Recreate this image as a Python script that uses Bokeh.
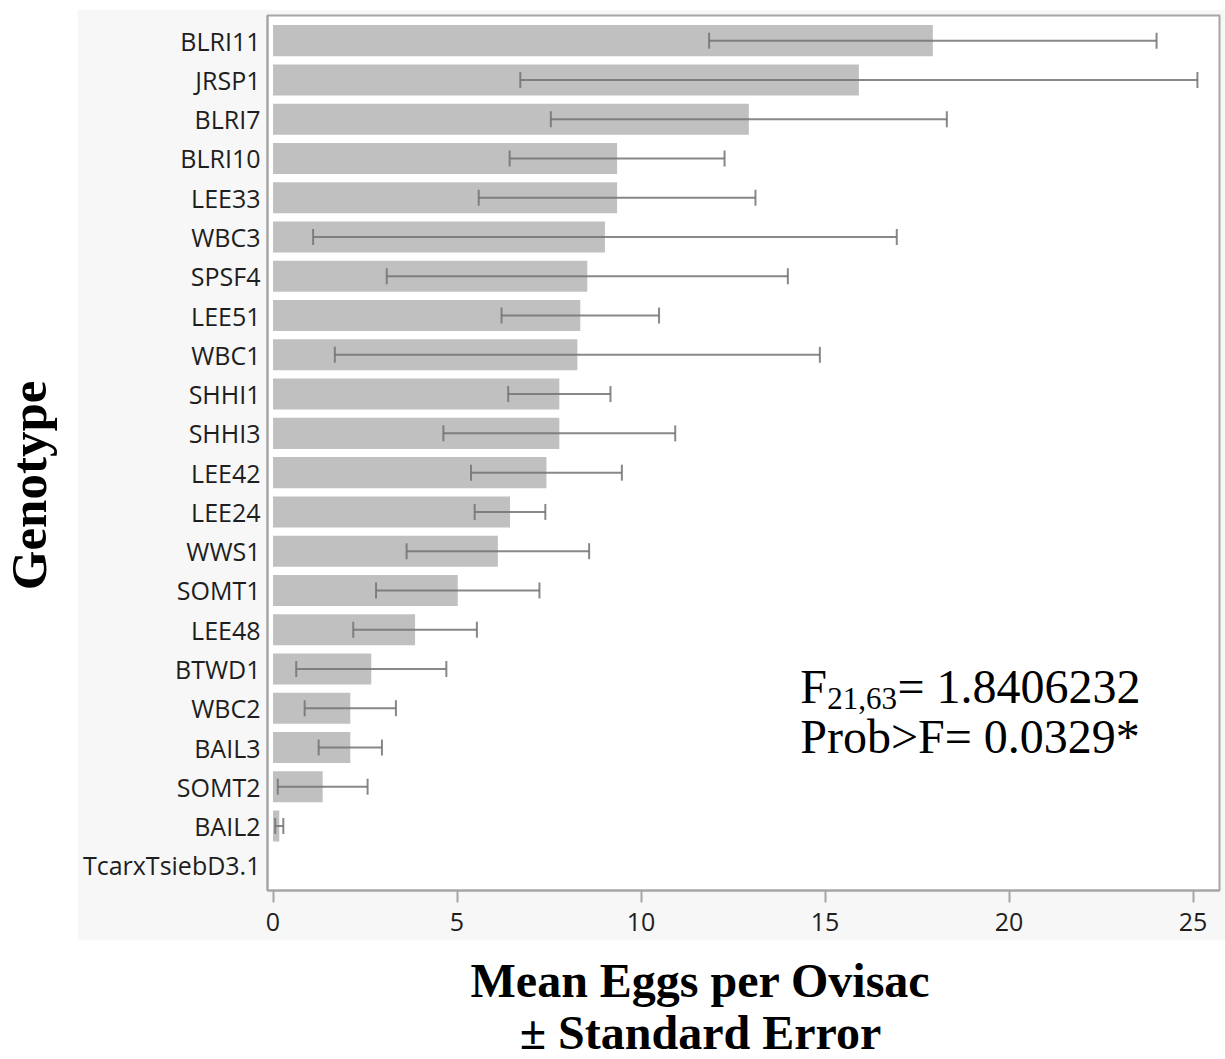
import math
import numpy as np
from bokeh.plotting import figure
from bokeh.models import ColumnDataSource, Whisker, TeeHead, Range1d, FactorRange, Label, FixedTicker, Spacer
from bokeh.layouts import column, row
from bokeh.embed import file_html
from bokeh.resources import INLINE

# ---------------- data ----------------
genotypes = ["BLRI11", "JRSP1", "BLRI7", "BLRI10", "LEE33", "WBC3", "SPSF4", "LEE51",
             "WBC1", "SHHI1", "SHHI3", "LEE42", "LEE24", "WWS1", "SOMT1", "LEE48",
             "BTWD1", "WBC2", "BAIL3", "SOMT2", "BAIL2", "TcarxTsiebD3.1"]
mean_eggs = [17.93, 15.92, 12.93, 9.35, 9.35, 9.02, 8.54, 8.35,
             8.27, 7.78, 7.78, 7.43, 6.44, 6.11, 5.02, 3.86,
             2.67, 2.10, 2.10, 1.35, 0.17, 0.0]
std_err = [6.08, 9.20, 5.38, 2.92, 3.76, 7.93, 5.45, 2.14,
           6.59, 1.39, 3.15, 2.05, 0.96, 2.48, 2.22, 1.68,
           2.04, 1.24, 0.86, 1.22, 0.11, float("nan")]
x_ticks = [0, 5, 10, 15, 20, 25]

stat_f_main = "F"
stat_f_sub = "21,63"
stat_f_value = "= 1.8406232"
stat_prob = "Prob>F= 0.0329*"

m = np.array(mean_eggs, dtype=float)
s = np.array(std_err, dtype=float)
src = ColumnDataSource(dict(genotype=genotypes, mean=m, lo=m - s, hi=m + s))

# ---------------- main plot ----------------
PANEL = "#f7f7f7"
EDGE = "#a6a6a6"

p = figure(
    title=None,
    y_range=FactorRange(factors=genotypes[::-1], range_padding=0.14, range_padding_units="absolute"),
    x_range=Range1d(-0.15, 25.72),
    frame_width=952, frame_height=875,
    min_border_left=190, min_border_right=6, min_border_top=6, min_border_bottom=50,
    toolbar_location=None, output_backend="svg",
    background_fill_color="white", border_fill_color=PANEL,
)
p.outline_line_color = EDGE
p.outline_line_width = 2
p.xgrid.visible = False
p.ygrid.visible = False

p.hbar(y="genotype", left=0, right="mean", height=0.79, source=src,
       fill_color="#c0c0c0", line_color=None)

whisk_col = "#737373"
w = Whisker(source=src, base="genotype", lower="lo", upper="hi", dimension="width",
            line_color=whisk_col, line_width=2, line_alpha=0.85, level="annotation",
            upper_head=TeeHead(size=16, line_color=whisk_col, line_width=2, line_alpha=0.85),
            lower_head=TeeHead(size=16, line_color=whisk_col, line_width=2, line_alpha=0.85))
p.add_layout(w)

# axes
p.xaxis.ticker = FixedTicker(ticks=x_ticks)
p.xaxis.minor_tick_line_color = None
p.xaxis.major_tick_in = 0
p.xaxis.major_tick_out = 12
p.xaxis.major_tick_line_color = EDGE
p.xaxis.major_tick_line_width = 2
p.xaxis.axis_line_color = EDGE
p.xaxis.axis_line_width = 2
p.xaxis.major_label_standoff = 10

p.yaxis.major_tick_in = 0
p.yaxis.major_tick_out = 0
p.yaxis.axis_line_color = EDGE
p.yaxis.axis_line_width = 2
p.yaxis.major_label_standoff = 7

for ax in (p.xaxis[0], p.yaxis[0]):
    ax.major_label_text_font = "Open Sans"
    ax.major_label_text_font_size = "25px"
    ax.major_label_text_color = "#1e1e1e"

serif = "Liberation Serif"
p.add_layout(Label(x=14.33, y=5.052, text=stat_f_main, text_font=serif, text_font_size="48px",
                   text_color="black", text_align="left", text_baseline="middle"))
p.add_layout(Label(x=15.06, y=4.751, text=stat_f_sub, text_font=serif, text_font_size="31px",
                   text_color="black", text_align="left", text_baseline="middle"))
p.add_layout(Label(x=16.97, y=5.052, text=stat_f_value, text_font=serif, text_font_size="48px",
                   text_color="black", text_align="left", text_baseline="middle"))
p.add_layout(Label(x=14.33, y=3.776, text=stat_prob, text_font=serif, text_font_size="48px",
                   text_color="black", text_align="left", text_baseline="middle"))

# ---------------- axis titles ----------------
lf = figure(title=None, width=77, height=931, x_range=Range1d(0, 77), y_range=Range1d(0, 931),
            x_axis_location=None, y_axis_location=None, min_border=0,
            toolbar_location=None, output_backend="svg")
lf.outline_line_color = None
lf.grid.visible = False
lf.add_layout(Label(x=28, y=431, text="Genotype", angle=math.pi / 2, text_font=serif,
                    text_font_style="bold", text_font_size="51px", text_color="black",
                    text_align="center", text_baseline="middle"))

bf = figure(title=None, width=1225, height=119, x_range=Range1d(0, 1225), y_range=Range1d(0, 119),
            x_axis_location=None, y_axis_location=None, min_border=0,
            toolbar_location=None, output_backend="svg")
bf.outline_line_color = None
bf.grid.visible = False
bf.add_layout(Label(x=700, y=79.3, text="Mean Eggs per Ovisac", text_font=serif,
                    text_font_style="bold", text_font_size="48px", text_color="black",
                    text_align="center", text_baseline="middle"))
bf.add_layout(Label(x=700, y=27.3, text="± Standard Error", text_font=serif,
                    text_font_style="bold", text_font_size="48px", text_color="black",
                    text_align="center", text_baseline="middle"))

layout = column(Spacer(width=1225, height=9), row(lf, p), bf)
open("out.html", "w").write(file_html(layout, INLINE))
